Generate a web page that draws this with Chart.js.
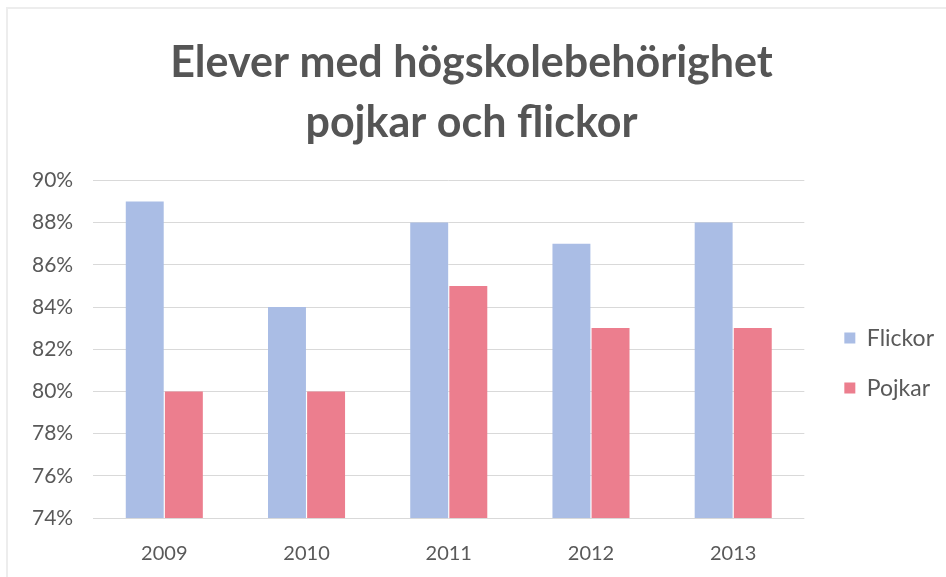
<!DOCTYPE html>
<html>
<head>
<meta charset="utf-8">
<script src="https://cdn.jsdelivr.net/npm/chart.js@4/dist/chart.umd.min.js"></script>
<style>
html,body{margin:0;padding:0;background:#fff;}
#wrap{width:946px;height:577px;position:relative;}
#frame{position:absolute;left:6px;top:7px;right:0;bottom:0;border-left:2px solid #ededed;border-top:2px solid #ededed;pointer-events:none;}
</style>
</head>
<body>
<div id="wrap"><canvas id="c" width="946" height="577"></canvas><div id="frame"></div></div>
<script>
const categories = ["2009", "2010", "2011", "2012", "2013"];
const flickor = [89, 84, 88, 87, 88];
const pojkar = [80, 80, 85, 83, 83];
const seriesNames = ["Flickor", "Pojkar"];
const titleLines = ["Elever med högskolebehörighet", "pojkar och flickor"];

const fontFam = "Lato, 'Open Sans', sans-serif";
const LEGEND_SHIFT = 13;
const legendShift = {
  id: 'legendShift',
  afterLayout(chart) {
    const lg = chart.legend;
    if (lg) { lg.left += LEGEND_SHIFT; lg.right += LEGEND_SHIFT; }
  }
};

new Chart(document.getElementById('c'), {
  type: 'bar',
  data: {
    labels: categories,
    datasets: [
      { label: seriesNames[0], data: flickor, backgroundColor: '#aabde5', categoryPercentage: 0.55, barPercentage: 0.97 },
      { label: seriesNames[1], data: pojkar, backgroundColor: '#ec7e8e', categoryPercentage: 0.55, barPercentage: 0.97 }
    ]
  },
  plugins: [legendShift],
  options: {
    responsive: false,
    animation: false,
    layout: { padding: { left: 12, right: 2 + LEGEND_SHIFT, top: 33, bottom: 0 } },
    plugins: {
      title: {
        display: true,
        text: titleLines,
        color: '#555555',
        font: { family: fontFam, size: 43, weight: 'bold', lineHeight: 1.4 },
        padding: { top: 0, bottom: 27 }
      },
      legend: {
        position: 'right',
        title: { display: true, text: ' ', font: { size: 1 }, padding: { top: 115, bottom: 0 } },
        labels: {
          color: '#595959',
          font: { family: fontFam, size: 23 },
          boxWidth: 11, boxHeight: 11,
          padding: 27
        }
      },
      tooltip: { enabled: false }
    },
    scales: {
      x: {
        grid: { display: false, drawTicks: false },
        border: { display: false },
        ticks: { color: '#595959', font: { family: fontFam, size: 20 }, padding: 24 },
        afterFit(scale) { scale.height = 59; }
      },
      y: {
        min: 74, max: 90,
        border: { display: false },
        grid: { color: '#d9d9d9', drawTicks: false },
        ticks: { stepSize: 2, color: '#595959', font: { family: fontFam, size: 21 }, padding: 20,
          callback: v => v + '%' }
      }
    }
  }
});
</script>
</body>
</html>
